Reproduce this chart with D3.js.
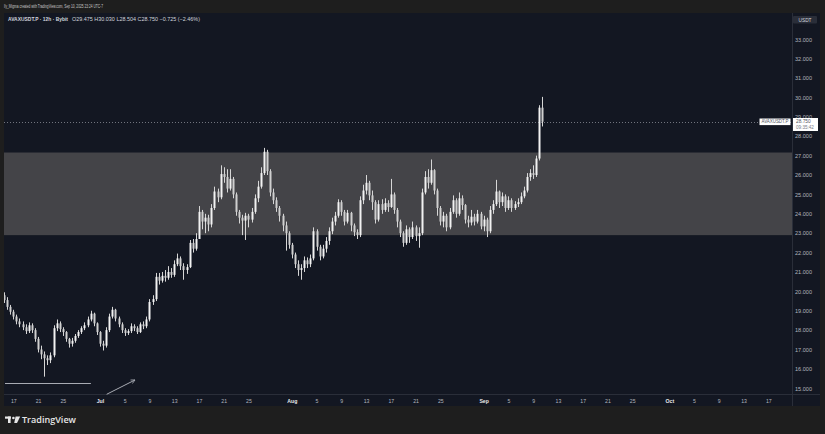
<!DOCTYPE html>
<html><head><meta charset="utf-8">
<script src="https://cdn.jsdelivr.net/npm/d3@7"></script>
<style>html,body{margin:0;padding:0;background:#1e1e1e;overflow:hidden}svg{display:block}</style>
</head><body>
<svg id="c" width="825" height="434"></svg>
<script>
// ---- data (12h candles, AVAXUSDT.P, Bybit) ----
const firstCandle = Date.UTC(2025, 5, 15, 12);   // Jun 15 12:00
const firstOpen = 19.8;
const closes = [19.55,19.2,18.95,18.7,18.45,18.3,18.15,17.95,18.25,18.0,
17.55,17.0,16.75,16.55,16.45,16.7,18.1,18.35,18.05,17.9,
17.55,17.3,17.45,17.7,17.9,18.1,18.25,18.55,18.85,18.35,
17.9,17.3,17.2,18.0,18.7,19.05,18.6,18.3,18.0,17.85,
17.95,18.2,18.1,17.9,18.3,18.2,18.55,19.45,19.6,20.75,
20.55,20.8,20.7,21.0,20.85,21.4,21.7,21.3,21.1,21.25,
22.5,22.2,22.7,24.1,23.6,23.8,23.45,24.3,25.15,24.85,
26.05,25.9,25.3,25.8,25.0,24.1,23.8,23.65,23.9,23.7,
24.1,24.8,25.4,26.1,27.2,26.2,25.1,24.7,24.3,23.9,
23.4,23.0,22.4,21.9,21.4,21.1,21.2,21.6,21.4,21.7,
23.1,22.3,21.8,22.2,22.6,23.1,23.6,23.9,24.6,24.1,
23.6,24.05,23.4,23.05,22.9,24.7,25.2,25.6,24.95,24.6,
23.7,24.5,24.2,24.55,24.35,25.0,24.2,23.6,23.0,22.5,
23.2,22.8,23.3,22.85,23.0,25.1,25.9,25.6,26.25,25.2,
24.3,23.6,23.9,23.3,24.1,24.7,24.0,24.8,24.45,23.7,
23.55,23.85,23.6,24.0,23.35,23.7,23.1,24.2,24.5,25.15,
24.6,24.9,24.3,24.7,24.3,24.5,24.6,24.9,25.2,25.9,
26.1,26.0,26.85,29.475,28.75];
const highs = [19.95,19.7,19.3,19.05,18.8,18.6,18.45,18.3,18.4,18.35,
18.1,17.65,17.2,16.9,16.7,16.85,18.25,18.55,18.45,18.15,
17.95,17.6,17.6,17.8,18.0,18.2,18.4,18.7,19.0,18.9,
18.4,17.95,17.45,18.15,18.85,19.2,19.1,18.7,18.4,18.1,
18.05,18.35,18.3,18.2,18.4,18.45,18.7,19.6,19.8,20.95,
20.95,21.0,21.1,21.3,21.2,21.6,21.95,21.8,21.45,21.4,
22.65,22.7,23.0,24.4,24.2,24.0,23.95,24.5,25.4,25.3,
26.5,26.4,26.3,26.3,25.9,25.1,24.2,23.95,24.05,24.0,
24.3,25.0,25.7,26.4,27.4,27.3,26.3,25.3,24.85,24.4,
24.0,23.6,23.1,22.5,22.0,21.6,21.4,21.8,21.75,21.9,
23.3,23.2,22.4,22.4,22.8,23.3,23.8,24.1,24.75,24.7,
24.2,24.2,24.1,23.5,23.2,24.9,25.5,26.0,25.7,25.2,
24.7,24.7,24.75,24.8,24.7,25.8,25.1,24.3,23.7,23.1,
23.4,23.3,23.6,23.4,23.3,25.3,26.2,26.3,26.8,26.3,
25.3,24.4,24.1,24.0,24.3,24.95,24.8,25.1,24.95,24.5,
23.9,24.2,24.0,24.2,24.1,23.9,23.8,24.4,24.7,25.75,
25.2,25.1,25.0,24.9,24.8,24.65,24.8,25.1,25.4,26.1,
26.3,26.5,27.0,29.6,30.03];
const lows = [19.4,19.05,18.8,18.55,18.3,18.15,18.0,17.8,17.85,17.85,
17.4,16.85,16.5,15.6,16.2,16.3,16.6,17.95,17.9,17.7,
17.4,17.1,17.15,17.35,17.6,17.8,18.0,18.15,18.45,18.2,
17.75,17.15,16.95,17.1,17.9,18.6,18.45,18.15,17.85,17.7,
17.75,17.85,17.95,17.8,17.85,18.05,18.1,18.45,19.3,19.5,
20.35,20.45,20.5,20.6,20.7,20.75,21.3,21.1,20.6,20.9,
21.2,22.0,22.1,22.7,23.2,23.0,23.1,23.3,24.2,24.6,
24.75,25.6,25.1,25.2,24.8,23.9,23.5,22.9,22.65,23.3,
23.55,24.0,24.6,25.3,26.0,26.0,24.9,24.5,24.1,23.6,
23.1,22.1,22.2,21.7,21.2,20.8,20.6,21.0,21.2,21.25,
21.6,22.1,21.6,21.7,22.0,22.4,22.95,23.4,23.8,23.9,
23.4,23.5,23.1,22.85,22.7,22.8,24.5,25.0,24.7,24.2,
23.5,23.6,24.0,24.1,24.1,24.3,24.0,23.3,22.8,22.3,
22.4,22.5,22.7,22.6,22.25,22.9,25.0,25.3,25.5,25.0,
23.9,23.4,23.3,23.1,23.2,24.0,23.8,23.9,24.2,23.5,
23.3,23.4,23.4,23.5,23.2,23.1,22.8,23.0,24.0,24.4,
24.3,24.4,24.1,24.2,24.1,24.2,24.35,24.5,24.8,25.1,
25.7,25.8,25.9,26.75,28.504];
const zoneRange = [22.9, 27.16];
const lastPrice = 28.75;
const priceTicks = [15,16,17,18,19,20,21,22,23,24,25,26,27,28,29,30,31,32,33];
const dateTicks = [[5,17],[5,21],[5,25],[6,1],[6,5],[6,9],[6,13],[6,17],[6,21],[6,25],
[7,1],[7,5],[7,9],[7,13],[7,17],[7,21],[7,25],[8,1],[8,5],[8,9],[8,13],[8,17],[8,21],[8,25],
[9,1],[9,5],[9,9],[9,13],[9,17]];
const monthNames = ["Jan","Feb","Mar","Apr","May","Jun","Jul","Aug","Sep","Oct","Nov","Dec"];
const supportLine = {from:[2025,5,15,12], to:[2025,5,29,13], value:15.26};
const arrowFrom = {date:[2025,6,2,2], value:14.69};
const arrowTo = {date:[2025,6,6,16], value:15.43};

// ---- build ----
const candles = closes.map((c,i)=>({
  t: new Date(firstCandle + i*12*3600*1000),
  o: i===0 ? firstOpen : closes[i-1], h: highs[i], l: lows[i], c
}));

const svg = d3.select("#c");
const P = {l:4, r:792, t:13, b:394};
const x = d3.scaleUtc().domain([new Date(Date.UTC(2025,5,17)), new Date(Date.UTC(2025,9,17))]).range([13.3, 768.3]);
const y = d3.scaleLinear().domain([15,33]).range([388.3, 39.3]);

svg.append("rect").attr("width",825).attr("height",434).attr("fill","#1e1e1e");
// panel
svg.append("rect").attr("x",P.l).attr("y",P.t).attr("width",820-P.l).attr("height",406-P.t).attr("fill","#131722");
svg.append("line").attr("x1",P.r+0.5).attr("x2",P.r+0.5).attr("y1",P.t).attr("y2",406).attr("stroke","#2a2e39");
svg.append("line").attr("x1",P.l).attr("x2",820).attr("y1",P.b+0.5).attr("y2",P.b+0.5).attr("stroke","#2a2e39");

svg.append("defs").append("clipPath").attr("id","pc").append("rect")
  .attr("x",P.l).attr("y",P.t).attr("width",P.r-P.l).attr("height",P.b-P.t);
const g = svg.append("g").attr("clip-path","url(#pc)");

// zone
g.append("rect").attr("x",P.l).attr("width",P.r-P.l)
  .attr("y",y(zoneRange[1])).attr("height",y(zoneRange[0])-y(zoneRange[1]))
  .attr("fill","#444448");

// last price dotted line
g.append("line").attr("x1",P.l).attr("x2",P.r).attr("y1",Math.round(y(lastPrice))+0.5).attr("y2",Math.round(y(lastPrice))+0.5)
  .attr("stroke","#8a8d96").attr("stroke-width",0.8).attr("stroke-dasharray","1,2");

// support line
const sd = a=>new Date(Date.UTC(a[0],a[1],a[2],a[3]));
g.append("line").attr("x1",Math.max(P.l+1,x(sd(supportLine.from)))).attr("x2",x(sd(supportLine.to)))
  .attr("y1",Math.round(y(supportLine.value))+0.5).attr("y2",Math.round(y(supportLine.value))+0.5)
  .attr("stroke","#a8abb3").attr("stroke-width",1);

// candles
const cg = g.append("g");
cg.selectAll("line.w").data(candles).join("line").attr("class","w")
  .attr("x1",d=>Math.round(x(d.t))+0.5).attr("x2",d=>Math.round(x(d.t))+0.5)
  .attr("y1",d=>y(d.h)).attr("y2",d=>y(d.l)).attr("stroke","#d6d6d6").attr("stroke-width",1);
cg.selectAll("rect.b").data(candles).join("rect").attr("class","b")
  .attr("x",d=>Math.round(x(d.t))-0.5).attr("width",2)
  .attr("y",d=>y(Math.max(d.o,d.c))).attr("height",d=>Math.max(0.8,Math.abs(y(d.o)-y(d.c))))
  .attr("fill",d=>d.c>=d.o?"#f2f2f2":"#cfcfcf");

// arrow annotation
svg.append("defs").append("marker").attr("id","ah").attr("viewBox","0 0 10 10").attr("refX",9).attr("refY",5)
  .attr("markerWidth",5).attr("markerHeight",5).attr("orient","auto")
  .append("path").attr("d","M1,1 L9,5 L1,9").attr("fill","none").attr("stroke","#a8abb3").attr("stroke-width",1.5);
svg.append("line").attr("x1",x(sd(arrowFrom.date))).attr("y1",y(arrowFrom.value))
  .attr("x2",x(sd(arrowTo.date))).attr("y2",y(arrowTo.value))
  .attr("stroke","#a8abb3").attr("stroke-width",1).attr("marker-end","url(#ah)");

// right axis
const fontF = "'Liberation Sans', Arial, sans-serif";
const ya = svg.append("g").attr("transform",`translate(${P.r+3},0)`)
  .call(d3.axisRight(y).tickValues(priceTicks).tickSize(0).tickPadding(0).tickFormat(d3.format(".3f")));
ya.select(".domain").remove();
ya.selectAll("text").attr("fill","#b2b5be").attr("font-size",5).attr("font-family",fontF).attr("dy","0.35em")
  .attr("textLength",17).attr("lengthAdjust","spacingAndGlyphs");

// USDT label
svg.append("rect").attr("x",793).attr("y",16).attr("width",24).attr("height",7.5).attr("rx",1).attr("fill","#2a2e39");
svg.append("text").attr("x",805).attr("y",21.5).attr("text-anchor","middle").attr("fill","#d1d4dc")
  .attr("font-size",4.8).attr("font-family",fontF).text("USDT");

// last price labels
const ly = y(lastPrice);
svg.append("rect").attr("x",759.5).attr("y",ly-3.2).attr("width",31).attr("height",6.6).attr("fill","#ffffff");
svg.append("text").attr("x",775).attr("y",ly+1.7).attr("text-anchor","middle").attr("fill","#50535e")
  .attr("font-size",4.6).attr("font-family",fontF).attr("textLength",27).attr("lengthAdjust","spacingAndGlyphs").text("AVAXUSDT.P");
svg.append("rect").attr("x",793).attr("y",ly-3.7).attr("width",25).attr("height",13).attr("fill","#ffffff");
svg.append("text").attr("x",796).attr("y",ly+1.6).attr("fill","#50535e")
  .attr("font-size",4.8).attr("font-family",fontF).text(d3.format(".3f")(lastPrice));
svg.append("text").attr("x",796).attr("y",ly+7.2).attr("fill","#787b86")
  .attr("font-size",4.6).attr("font-family",fontF).text("09:35:42");

// bottom axis
const tickDates = dateTicks.map(d=>new Date(Date.UTC(2025,d[0],d[1])));
const xa = svg.append("g").attr("transform",`translate(0,${P.b})`)
  .call(d3.axisBottom(x).tickValues(tickDates).tickSize(0).tickPadding(0)
    .tickFormat(d=>d.getUTCDate()===1?monthNames[d.getUTCMonth()]:String(d.getUTCDate())));
xa.select(".domain").remove();
xa.selectAll("text").attr("fill",d=>d.getUTCDate()===1?"#e8e8ea":"#b2b5be")
  .attr("font-weight",d=>d.getUTCDate()===1?"bold":"normal")
  .attr("font-size",5.2).attr("font-family",fontF).attr("dy","0").attr("y",8.8);

// header texts
svg.append("text").attr("x",4).attr("y",8).attr("fill","#c8c8c8").attr("font-size",4.8).attr("font-family",fontF)
  .attr("textLength",99).attr("lengthAdjust","spacingAndGlyphs")
  .text("lly_Migma created with TradingView.com, Sep 10, 2025 23:24 UTC-7");
svg.append("text").attr("x",8).attr("y",21).attr("fill","#d1d4dc").attr("font-size",5.4).attr("font-weight","bold").attr("font-family",fontF)
  .attr("textLength",60).attr("lengthAdjust","spacingAndGlyphs").text("AVAXUSDT.P · 12h · Bybit");
svg.append("text").attr("x",72).attr("y",21).attr("fill","#d1d4dc").attr("font-size",5.4).attr("font-family",fontF)
  .attr("textLength",128).attr("lengthAdjust","spacingAndGlyphs").text("O29.475 H30.030 L28.504 C28.750 −0.725 (−2.46%)");

// footer logo
const lg = svg.append("g").attr("fill","#e6e6e6");
lg.append("rect").attr("x",5).attr("y",416.5).attr("width",6).attr("height",2.2);
lg.append("rect").attr("x",8).attr("y",416.5).attr("width",2.6).attr("height",6.5);
lg.append("circle").attr("cx",13.4).attr("cy",418).attr("r",1.3);
lg.append("path").attr("d","M15.6,416.5 L20.2,416.5 L17,423 L14.2,423 Z");
svg.append("text").attr("x",22).attr("y",423.2).attr("fill","#e6e6e6").attr("font-size",9.5).attr("font-weight",600)
  .attr("font-family","'Open Sans', Arial, sans-serif").attr("textLength",54).attr("lengthAdjust","spacingAndGlyphs").text("TradingView");
</script>
</body></html>
